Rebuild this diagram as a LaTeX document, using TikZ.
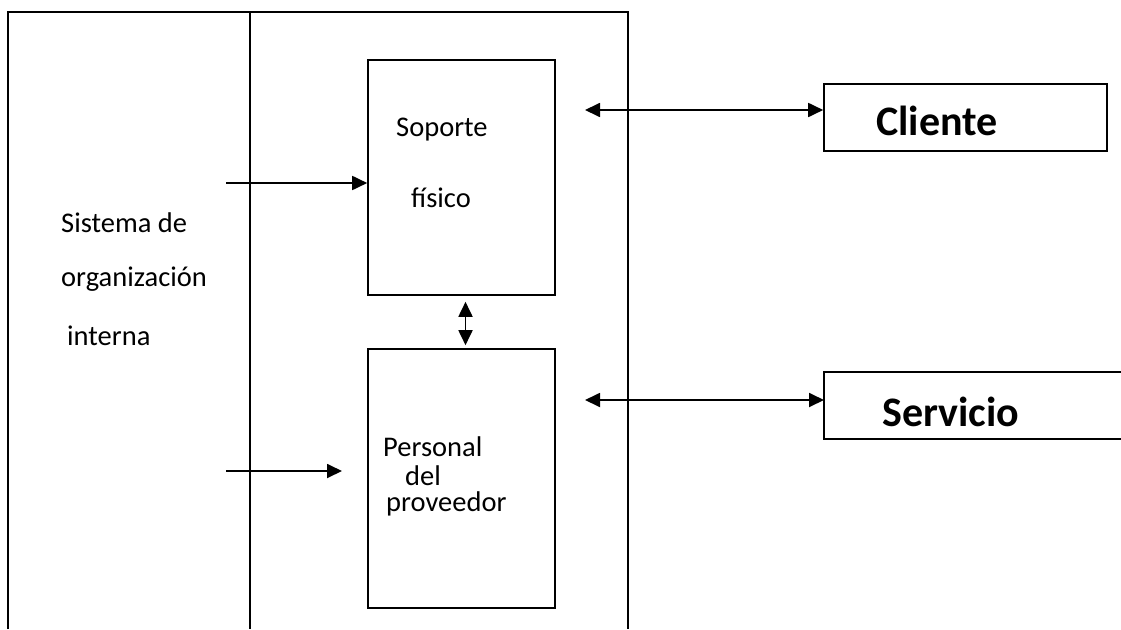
\documentclass[tikz,border=0pt]{standalone}
\usepackage{fontspec}
\setmainfont{Carlito}
\usetikzlibrary{arrows.meta}
\begin{document}
\begin{tikzpicture}[x=1pt,y=-1pt,
  frame/.style={line width=1.6pt},
  boxnode/.style={draw,line width=1.6pt,inner sep=0pt},
  lbl/.style={font=\fontsize{28.5}{34}\selectfont,inner sep=0pt,anchor=base west},
  big/.style={font=\fontsize{42}{50}\selectfont\bfseries,inner sep=0pt,anchor=base west},
  tip/.tip={Triangle[length=15pt,width=14pt]},
  arr/.style={line width=1.8pt,-tip},
  darr/.style={line width=1.8pt,tip-tip}]
\useasboundingbox (0,0) rectangle (1121,629);

% outer frame, open at the bottom, and the inner divider
\draw[frame] (8,629) -- (8,12) -- (628,12) -- (628,629);
\draw[frame] (250,12) -- (250,629);

% inner blocks
\node[boxnode,minimum width=187pt,minimum height=235pt] (soporte) at (461.5,177.5) {};
\node[boxnode,minimum width=187pt,minimum height=259pt] (personal) at (461.5,478.5) {};

% external blocks
\node[boxnode,minimum width=283pt,minimum height=67pt] (cliente) at (965.5,117.5) {};
\draw[frame] (1121,372) -- (824,372) -- (824,439) -- (1121,439);
\coordinate (servicio) at (824,400);

% labels
\node[lbl] (t-sop) at (396,136) {Soporte};
\node[lbl] (t-fis) at (411,207) {físico};
\node[lbl] (t-sis) at (61,232) {Sistema de};
\node[lbl] (t-org) at (61,286) {organización};
\node[lbl] (t-int) at (67,345) {interna};
\node[lbl] (t-per) at (383,456) {Personal};
\node[lbl] (t-del) at (405,485) {del};
\node[lbl] (t-pro) at (386,511) {proveedor};
\node[big] (t-cli) at (876,135) {Cliente};
\node[big] (t-ser) at (882,426) {Servicio};

% connectors
\coordinate (in1) at (226,183);
\coordinate (in2) at (226,471);
\coordinate (in2e) at (342,471);
\coordinate (c1) at (585,110);
\coordinate (s1) at (585,400);
\draw[arr] (in1) -- (in1 -| soporte.west);
\draw[arr] (in2) -- (in2e);
\draw[darr] (c1) -- (c1 -| cliente.west);
\draw[darr] (s1) -- (servicio);
\draw[darr] ([xshift=4pt,yshift=-6pt]soporte.south) -- ([xshift=4pt,yshift=3pt]personal.north);
\end{tikzpicture}
\end{document}
